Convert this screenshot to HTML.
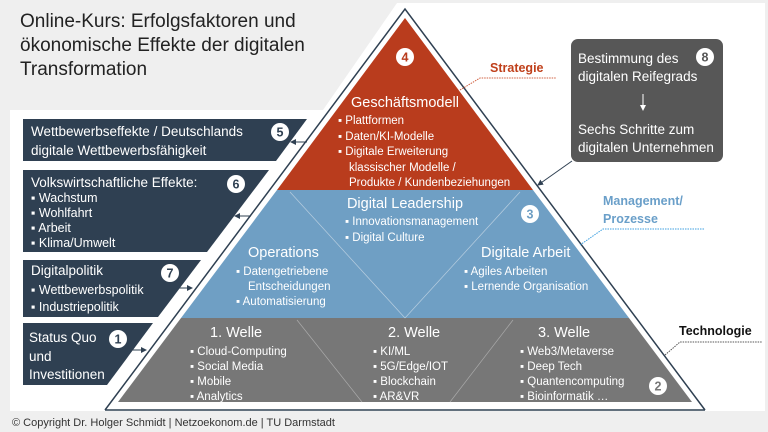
<!DOCTYPE html>
<html><head><meta charset="utf-8"><style>
html,body{margin:0;padding:0;background:#efefef;}
svg{display:block;font-family:"Liberation Sans",sans-serif;}
.w{fill:#fff;font-size:11.5px;}
.lw{fill:#fff;font-size:12.5px;}
.h{fill:#fff;font-size:14.5px;}
.b{fill:#fff;font-size:13.5px;}
</style></head><body>
<svg width="768" height="432" viewBox="0 0 768 432">
<rect width="768" height="432" fill="#efefef"/>
<polygon points="10,110 323,110 397,3 765,3 765,411 10,411" fill="#fff"/>
<text x="20" y="27" font-size="19" fill="#222">Online-Kurs: Erfolgsfaktoren und</text>
<text x="20" y="51" font-size="19" fill="#222">ökonomische Effekte der digitalen</text>
<text x="20" y="75" font-size="19" fill="#222">Transformation</text>
<polyline points="105,410 405,9 705,410" fill="none" stroke="#2f4052" stroke-width="1.5"/>
<line x1="105" y1="410" x2="705" y2="410" stroke="#2f4052" stroke-width="1.5"/>
<polygon points="405,18 533,190 277,190" fill="#b93c1d"/>
<polygon points="277,190 533,190 629,318 181,318" fill="#6f9fc4"/>
<polygon points="181,318 629,318 692,402 118,402" fill="#777"/>
<g stroke="#c9d9e6" stroke-width="0.7" opacity="0.8">
<line x1="290" y1="192" x2="405" y2="318"/><line x1="520" y1="192" x2="405" y2="318"/>
</g>
<g stroke="#aaa" stroke-width="0.7">
<line x1="297" y1="320" x2="362" y2="402"/><line x1="513" y1="320" x2="450" y2="402"/>
</g>
<text class="h" x="405" y="107" text-anchor="middle">Geschäftsmodell</text>
<g class="w">
<text x="338" y="124">▪ Plattformen</text>
<text x="338" y="140">▪ Daten/KI-Modelle</text>
<text x="338" y="155">▪ Digitale Erweiterung</text>
<text x="349" y="171">klassischer Modelle /</text>
<text x="349" y="186">Produkte / Kundenbeziehungen</text>
</g>
<text class="h" x="405" y="208" text-anchor="middle">Digital Leadership</text>
<g class="w">
<text x="345" y="225">▪ Innovationsmanagement</text>
<text x="345" y="241">▪ Digital Culture</text>
</g>
<text class="h" x="248" y="257">Operations</text>
<g class="w">
<text x="236" y="275">▪ Datengetriebene</text>
<text x="248" y="290">Entscheidungen</text>
<text x="236" y="305">▪ Automatisierung</text>
</g>
<text class="h" x="481" y="257">Digitale Arbeit</text>
<g class="w">
<text x="464" y="275">▪ Agiles Arbeiten</text>
<text x="464" y="290">▪ Lernende Organisation</text>
</g>
<text class="h" x="210" y="337">1. Welle</text>
<text class="h" x="388" y="337">2. Welle</text>
<text class="h" x="538" y="337">3. Welle</text>
<g class="w">
<text x="190" y="355">▪ Cloud-Computing</text>
<text x="190" y="370">▪ Social Media</text>
<text x="190" y="385">▪ Mobile</text>
<text x="190" y="400">▪ Analytics</text>
<text x="373" y="355">▪ KI/ML</text>
<text x="373" y="370">▪ 5G/Edge/IOT</text>
<text x="373" y="385">▪ Blockchain</text>
<text x="373" y="400">▪ AR&amp;VR</text>
<text x="520" y="355">▪ Web3/Metaverse</text>
<text x="520" y="370">▪ Deep Tech</text>
<text x="520" y="385">▪ Quantencomputing</text>
<text x="520" y="400">▪ Bioinformatik …</text>
</g>
<g fill="#2f4052">
<polygon points="23,119 307,119 276,161 23,161"/>
<polygon points="23,170 269,170 207,252 23,252"/>
<polygon points="23,260 201,260 158,317 23,317"/>
<polygon points="23,323 153,323 107,385 23,385"/>
</g>
<g class="b">
<text x="31" y="136">Wettbewerbseffekte / Deutschlands</text>
<text x="31" y="155">digitale Wettbewerbsfähigkeit</text>
<text x="31" y="187">Volkswirtschaftliche Effekte:</text>
<text x="31" y="275">Digitalpolitik</text>
<text x="29" y="342">Status Quo</text>
<text x="29" y="361">und</text>
<text x="29" y="379">Investitionen</text>
</g>
<g class="lw">
<text x="31" y="202">▪ Wachstum</text>
<text x="31" y="217">▪ Wohlfahrt</text>
<text x="31" y="232">▪ Arbeit</text>
<text x="31" y="247">▪ Klima/Umwelt</text>
<text x="31" y="294">▪ Wettbewerbspolitik</text>
<text x="31" y="311">▪ Industriepolitik</text>
</g>
<defs><marker id="a" markerWidth="6" markerHeight="6" refX="5" refY="3" orient="auto"><path d="M0,0 L6,3 L0,6z" fill="#2f4052"/></marker>
<marker id="g" markerWidth="6" markerHeight="6" refX="5" refY="3" orient="auto"><path d="M0,0 L6,3 L0,6z" fill="#fff"/></marker></defs>
<g stroke="#2f4052" stroke-width="1" marker-end="url(#a)">
<line x1="307" y1="142" x2="291" y2="142"/>
<line x1="251" y1="216" x2="235" y2="216"/>
<line x1="176" y1="288" x2="192" y2="288"/>
<line x1="130" y1="350" x2="146" y2="350"/>
<line x1="572" y1="161" x2="538" y2="185"/>
</g>
<rect x="571" y="39" width="152" height="123" rx="7" fill="#575757"/>
<g class="b">
<text x="578" y="63">Bestimmung des</text>
<text x="578" y="81">digitalen Reifegrads</text>
<text x="578" y="134">Sechs Schritte zum</text>
<text x="578" y="152">digitalen Unternehmen</text>
</g>
<line x1="643" y1="94" x2="643" y2="110" stroke="#fff" stroke-width="1" marker-end="url(#g)"/>
<text x="490" y="72" font-size="12.5" font-weight="bold" fill="#c0401b">Strategie</text>
<polyline points="460,90 480,78 556,78" fill="none" stroke="#d06040" stroke-width="1" stroke-dasharray="1.5,1"/>
<text x="603" y="205" font-size="12.5" font-weight="bold" fill="#6a9fc9">Management/</text>
<text x="603" y="223" font-size="12.5" font-weight="bold" fill="#6a9fc9">Prozesse</text>
<polyline points="580,245 603,229 705,229" fill="none" stroke="#3fa0e0" stroke-width="1" stroke-dasharray="1.5,1"/>
<text x="679" y="335" font-size="12.5" font-weight="bold" fill="#111">Technologie</text>
<polyline points="665,355 680,342 762,342" fill="none" stroke="#555" stroke-width="1" stroke-dasharray="1.5,1"/>
<g font-size="12.5" font-weight="bold" text-anchor="middle">
<circle cx="405" cy="57" r="9" fill="#fff"/><text x="405" y="61.5" fill="#b93c1d">4</text>
<circle cx="530" cy="214" r="9" fill="#fff"/><text x="530" y="218.5" fill="#6f9fc4">3</text>
<circle cx="658" cy="386" r="9" fill="#fff"/><text x="658" y="390.5" fill="#777">2</text>
<circle cx="280" cy="132" r="9" fill="#fff"/><text x="280" y="136.5" fill="#2f4052">5</text>
<circle cx="236" cy="184" r="9" fill="#fff"/><text x="236" y="188.5" fill="#2f4052">6</text>
<circle cx="170" cy="273" r="9" fill="#fff"/><text x="170" y="277.5" fill="#2f4052">7</text>
<circle cx="118" cy="339" r="9" fill="#fff"/><text x="118" y="343.5" fill="#2f4052">1</text>
<circle cx="705" cy="57" r="9" fill="#fff"/><text x="705" y="61.5" fill="#575757">8</text>
</g>
<text x="12" y="426" font-size="11" fill="#333">© Copyright Dr. Holger Schmidt | Netzoekonom.de | TU Darmstadt</text>
</svg>
</body></html>
